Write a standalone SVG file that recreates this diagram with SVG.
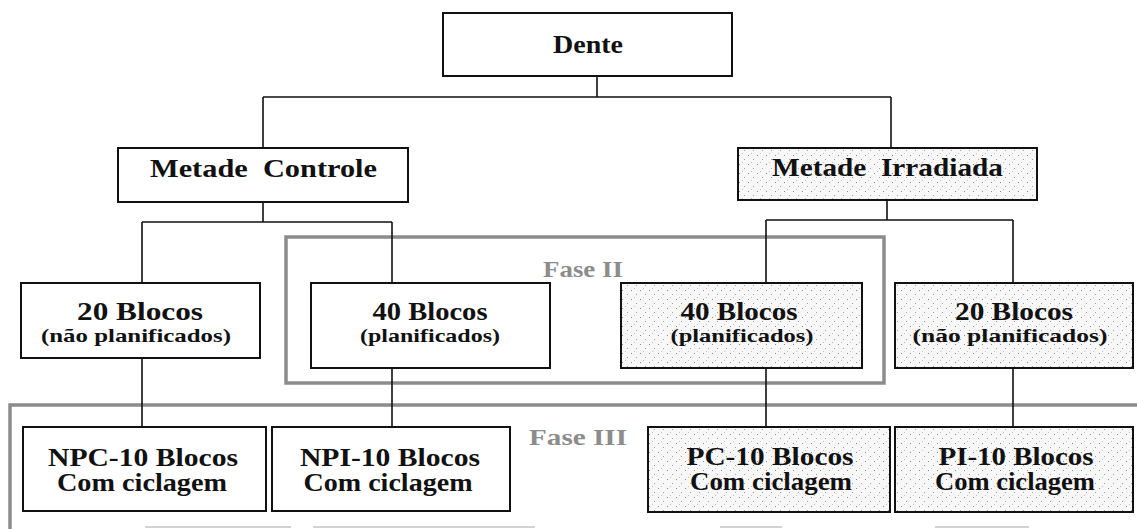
<svg xmlns="http://www.w3.org/2000/svg" width="1137" height="529" viewBox="0 0 1137 529">
<defs>
<pattern id="dots" width="9" height="9" patternUnits="userSpaceOnUse">
<rect width="9" height="9" fill="#f7f7f7"/>
<rect x="1" y="2" width="1" height="1" fill="#8a8a8a"/>
<rect x="6" y="6" width="1" height="1" fill="#a0a0a0"/>
<rect x="4" y="0" width="1" height="1" fill="#c0c0c0"/>
</pattern>
<style>
.box{fill:#fff;stroke:#111;stroke-width:2}
.shaded{fill:url(#dots);stroke:#111;stroke-width:2}
.frame{fill:none;stroke:#8c8c8c;stroke-width:3.5}
.conn{fill:none;stroke:#111;stroke-width:1.6}
text{font-family:"Liberation Serif","DejaVu Serif","Times New Roman",serif;font-weight:bold}
.t{fill:#111;text-anchor:middle}
.big{font-size:25px}
.small{font-size:19px}
.phase{fill:#8c8c8c;font-size:23px}
.faint{stroke:#c4c4c4;stroke-width:1.5;fill:none}
</style>
</defs>
<rect width="1137" height="529" fill="#fff"/>

<g id="frames">
<rect class="frame" x="286" y="237" width="598" height="146"/>
<path class="frame" d="M10 529 V405 H1137"/>
<path class="faint" d="M145 527 H291 M313 527 H535 M720 527 H782 M935 527 H1029"/>
</g>

<g id="connectors">
<path class="conn" d="M597 76 V97 M263 97 H891 M263 97 V148 M891 97 V148"/>
<path class="conn" d="M263 202 V222 M142 222 H392 M142 222 V283 M392 222 V283"/>
<path class="conn" d="M887 200 V220 M766 220 H1013 M766 220 V283 M1013 220 V283"/>
<path class="conn" d="M142 358 V427 M392 368 V427 M766 368 V427 M1013 368 V427"/>
</g>

<g id="dente">
<rect class="box" x="443" y="13" width="289" height="63"/>
<text class="t big" x="588" y="53" textLength="70" lengthAdjust="spacingAndGlyphs">Dente</text>
</g>

<g id="metade-controle">
<rect class="box" x="118" y="148" width="290" height="54"/>
<text class="t big" x="263.5" y="177" textLength="227" lengthAdjust="spacingAndGlyphs" xml:space="preserve">Metade  Controle</text>
</g>

<g id="metade-irradiada">
<rect class="shaded" x="738" y="148" width="299" height="52"/>
<text class="t big" x="887.5" y="176" textLength="231" lengthAdjust="spacingAndGlyphs" xml:space="preserve">Metade  Irradiada</text>
</g>

<g id="blocos-20-controle">
<rect class="box" x="21" y="283" width="239" height="75"/>
<text class="t big" x="140" y="320" textLength="126" lengthAdjust="spacingAndGlyphs">20 Blocos</text>
<text class="t small" x="136" y="342" textLength="190" lengthAdjust="spacingAndGlyphs">(não planificados)</text>
</g>

<g id="blocos-40-controle">
<rect class="box" x="311" y="283" width="239" height="85"/>
<text class="t big" x="430" y="320" textLength="115" lengthAdjust="spacingAndGlyphs">40 Blocos</text>
<text class="t small" x="430" y="342" textLength="140" lengthAdjust="spacingAndGlyphs">(planificados)</text>
</g>

<g id="blocos-40-irradiada">
<rect class="shaded" x="621" y="283" width="241" height="85"/>
<text class="t big" x="739" y="320" textLength="117" lengthAdjust="spacingAndGlyphs">40 Blocos</text>
<text class="t small" x="742" y="342" textLength="143" lengthAdjust="spacingAndGlyphs">(planificados)</text>
</g>

<g id="blocos-20-irradiada">
<rect class="shaded" x="895" y="283" width="238" height="85"/>
<text class="t big" x="1014" y="320" textLength="118" lengthAdjust="spacingAndGlyphs">20 Blocos</text>
<text class="t small" x="1010" y="342" textLength="195" lengthAdjust="spacingAndGlyphs">(não planificados)</text>
</g>

<g id="fase-labels">
<text class="phase" x="543" y="277" textLength="80" lengthAdjust="spacingAndGlyphs">Fase II</text>
<text class="phase" x="529" y="445" textLength="98" lengthAdjust="spacingAndGlyphs">Fase III</text>
</g>

<g id="npc">
<rect class="box" x="23" y="427" width="243" height="84"/>
<text class="t big" x="143" y="466" textLength="190" lengthAdjust="spacingAndGlyphs">NPC-10 Blocos</text>
<text class="t big" x="142" y="491" textLength="170" lengthAdjust="spacingAndGlyphs">Com ciclagem</text>
</g>

<g id="npi">
<rect class="box" x="272" y="427" width="238" height="84"/>
<text class="t big" x="390" y="466" textLength="180" lengthAdjust="spacingAndGlyphs">NPI-10 Blocos</text>
<text class="t big" x="388" y="491" textLength="169" lengthAdjust="spacingAndGlyphs">Com ciclagem</text>
</g>

<g id="pc">
<rect class="shaded" x="648" y="427" width="242" height="85"/>
<text class="t big" x="770" y="465" textLength="167" lengthAdjust="spacingAndGlyphs">PC-10 Blocos</text>
<text class="t big" x="771" y="490" textLength="162" lengthAdjust="spacingAndGlyphs">Com ciclagem</text>
</g>

<g id="pi">
<rect class="shaded" x="895" y="427" width="238" height="85"/>
<text class="t big" x="1016" y="465" textLength="155" lengthAdjust="spacingAndGlyphs">PI-10 Blocos</text>
<text class="t big" x="1015" y="490" textLength="160" lengthAdjust="spacingAndGlyphs">Com ciclagem</text>
</g>
</svg>
